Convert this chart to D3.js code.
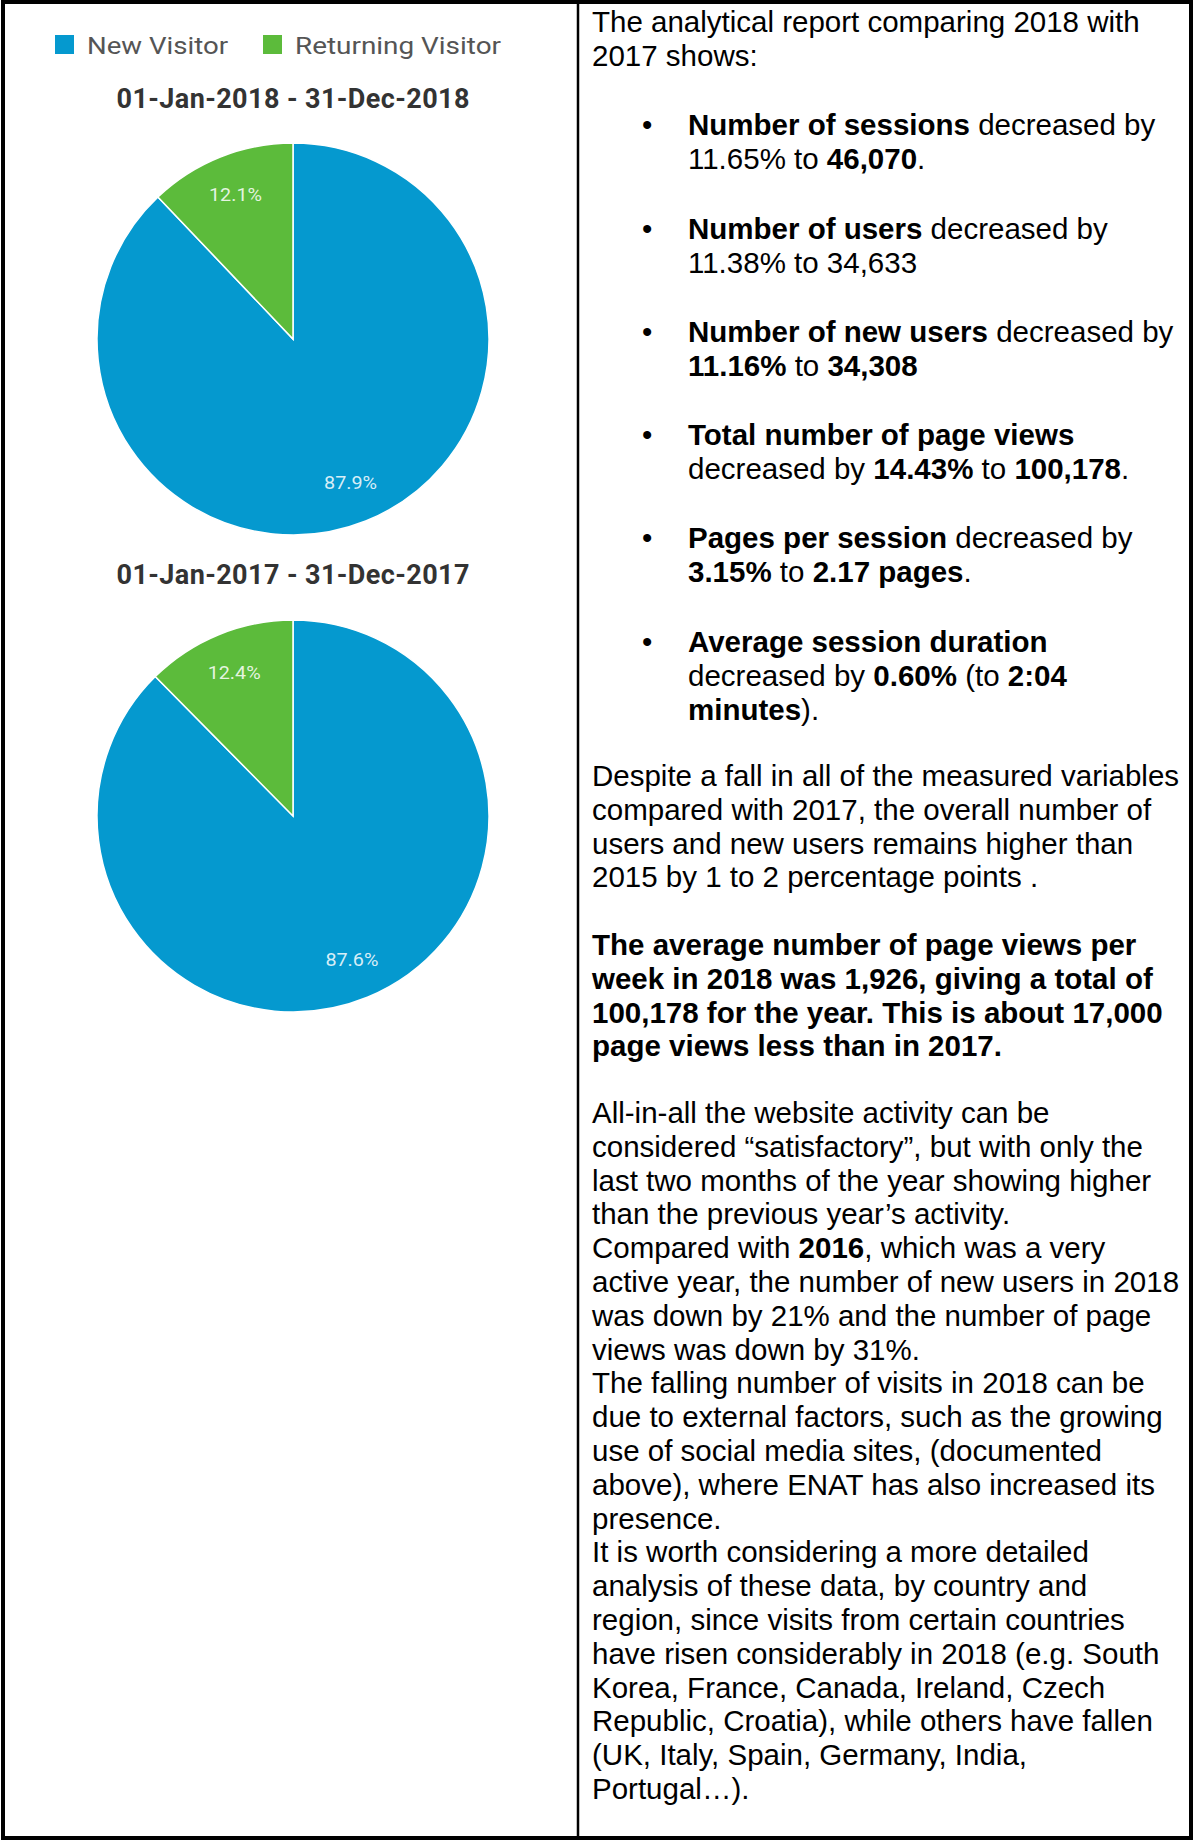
<!DOCTYPE html>
<html lang="en">
<head>
<meta charset="utf-8">
<title>Visitors 2018 vs 2017</title>
<script type="text/javascript" src="https://d3js.org/d3.v7.min.js"></script>
<style>
body { margin: 0; background: #ffffff; }
.report { font-family: "Liberation Sans", Arial, Helvetica, sans-serif; font-size: 29.5px; fill: #000; }
.legend-text { font-family: Roboto, "Noto Sans", sans-serif; font-size: 23px; fill: #555; }
.period { font-family: Roboto, "Noto Sans", sans-serif; font-size: 27px; font-weight: bold; fill: #333; }
.slice-label { font-family: Roboto, "Liberation Sans", sans-serif; font-size: 18px; fill: #fff; fill-opacity: 0.85; }
</style>
</head>
<body>
<div id="container"></div>
<script type="text/javascript">
// data
var categories = ["New Visitor", "Returning Visitor"];
var colours = ["#0599cf", "#5cbb3b"];
var periods = ["01-Jan-2018 - 31-Dec-2018", "01-Jan-2017 - 31-Dec-2017"];
var values2018 = [87.9, 12.1];
var values2017 = [87.6, 12.4];

// report text, one array per paragraph, one entry per line ; "*" marks a bold run
var paragraphs = [
  {bullet: false, lines: [
    ["The analytical report comparing 2018 with"],
    ["2017 shows:"]]},
  {bullet: true, lines: [
    ["*Number of sessions", " decreased by"],
    ["11.65% to ", "*46,070", "."]]},
  {bullet: true, lines: [
    ["*Number of users", " decreased by"],
    ["11.38% to 34,633"]]},
  {bullet: true, lines: [
    ["*Number of new users", " decreased by"],
    ["*11.16%", " to ", "*34,308"]]},
  {bullet: true, lines: [
    ["*Total number of page views"],
    ["decreased by ", "*14.43%", " to ", "*100,178", "."]]},
  {bullet: true, lines: [
    ["*Pages per session", " decreased by"],
    ["*3.15%", " to ", "*2.17 pages", "."]]},
  {bullet: true, lines: [
    ["*Average session duration"],
    ["decreased by ", "*0.60%", " (to ", "*2:04"],
    ["*minutes", ")."]]},
  {bullet: false, lines: [
    ["Despite a fall in all of the measured variables"],
    ["compared with 2017, the overall number of"],
    ["users and new users remains higher than"],
    ["2015 by 1 to 2 percentage points ."]]},
  {bullet: false, lines: [
    ["*The average number of page views per"],
    ["*week in 2018 was 1,926, giving a total of"],
    ["*100,178 for the year. This is about 17,000"],
    ["*page views less than in 2017."]]},
  {bullet: false, lines: [
    ["All-in-all the website activity can be"],
    ["considered \u201csatisfactory\u201d, but with only the"],
    ["last two months of the year showing higher"],
    ["than the previous year\u2019s activity."],
    ["Compared with ", "*2016", ", which was a very"],
    ["active year, the number of new users in 2018"],
    ["was down by 21% and the number of page"],
    ["views was down by 31%."],
    ["The falling number of visits in 2018 can be"],
    ["due to external factors, such as the growing"],
    ["use of social media sites, (documented"],
    ["above), where ENAT has also increased its"],
    ["presence."],
    ["It is worth considering a more detailed"],
    ["analysis of these data, by country and"],
    ["region, since visits from certain countries"],
    ["have risen considerably in 2018 (e.g. South"],
    ["Korea, France, Canada, Ireland, Czech"],
    ["Republic, Croatia), while others have fallen"],
    ["(UK, Italy, Spain, Germany, India,"],
    ["Portugal\u2026)."]]}
];

var w = 1195;
var h = 1843;
var svg = d3.select("div#container").append("svg")
    .attr("width", w).attr("height", h)
    .style("display", "block");

// table frame
svg.append("rect").attr("x", 3).attr("y", 2).attr("width", 1188).attr("height", 1836)
    .attr("fill", "none").attr("stroke", "#000").attr("stroke-width", 4);
svg.append("line").attr("x1", 578).attr("x2", 578).attr("y1", 2).attr("y2", 1838)
    .attr("stroke", "#000").attr("stroke-width", 2.5);

// legend
var legendX = [55, 263];
var legendW = [141, 206];
var legend = svg.selectAll("g.legend").data(categories).enter().append("g").attr("class", "legend");
legend.append("rect")
    .attr("x", function(d, i) { return legendX[i]; })
    .attr("y", 35).attr("width", 19).attr("height", 19)
    .attr("fill", function(d, i) { return colours[i]; });
legend.append("text").attr("class", "legend-text")
    .attr("x", function(d, i) { return legendX[i] + 32; })
    .attr("y", 53.5)
    .attr("textLength", function(d, i) { return legendW[i]; })
    .attr("lengthAdjust", "spacingAndGlyphs")
    .text(function(d) { return d; });

// pies
var radius = 196;
var pie = d3.pie().sort(null);
var arc = d3.arc().innerRadius(0).outerRadius(radius);
var labelArc = d3.arc().innerRadius(155).outerRadius(155);
var charts = [
  {period: periods[0], values: values2018, cy: 339, ty: 108},
  {period: periods[1], values: values2017, cy: 816, ty: 584}
];

charts.forEach(function(c) {
  svg.append("text").attr("class", "period")
      .attr("x", 293).attr("y", c.ty)
      .attr("text-anchor", "middle")
      .attr("textLength", 353).attr("lengthAdjust", "spacing")
      .text(c.period);
  var g = svg.append("g").attr("transform", "translate(293," + c.cy + ")");
  var arcs = pie(c.values);
  g.selectAll("path").data(arcs).enter().append("path")
      .attr("d", arc)
      .attr("fill", function(d, i) { return colours[i]; })
      .attr("stroke", "#fff").attr("stroke-width", 1.5);
  g.selectAll("text").data(arcs).enter().append("text")
      .attr("class", "slice-label")
      .attr("transform", function(d) { return "translate(" + labelArc.centroid(d) + ")"; })
      .attr("text-anchor", "middle")
      .attr("dy", "0.35em")
      .attr("textLength", 53).attr("lengthAdjust", "spacingAndGlyphs")
      .text(function(d) { return d.value.toFixed(1) + "%"; });
});

// report column: first baseline of every paragraph, then a fixed line pitch
var paraTop = [32, 135, 239, 342, 445, 548, 652, 786, 955, 1123];
var pitch = 33.8;
var report = svg.append("g").attr("class", "report");
paragraphs.forEach(function(p, pi) {
  if (p.bullet) {
    report.append("text").attr("x", 642).attr("y", paraTop[pi]).text("\u2022");
  }
  p.lines.forEach(function(line, li) {
    var t = report.append("text")
        .attr("x", p.bullet ? 688 : 592)
        .attr("y", paraTop[pi] + li * pitch)
        .attr("xml:space", "preserve");
    line.forEach(function(s) {
      var bold = s.charAt(0) === "*";
      t.append("tspan")
          .attr("font-weight", bold ? "bold" : "normal")
          .text(bold ? s.slice(1) : s);
    });
  });
});
</script>
</body>
</html>
